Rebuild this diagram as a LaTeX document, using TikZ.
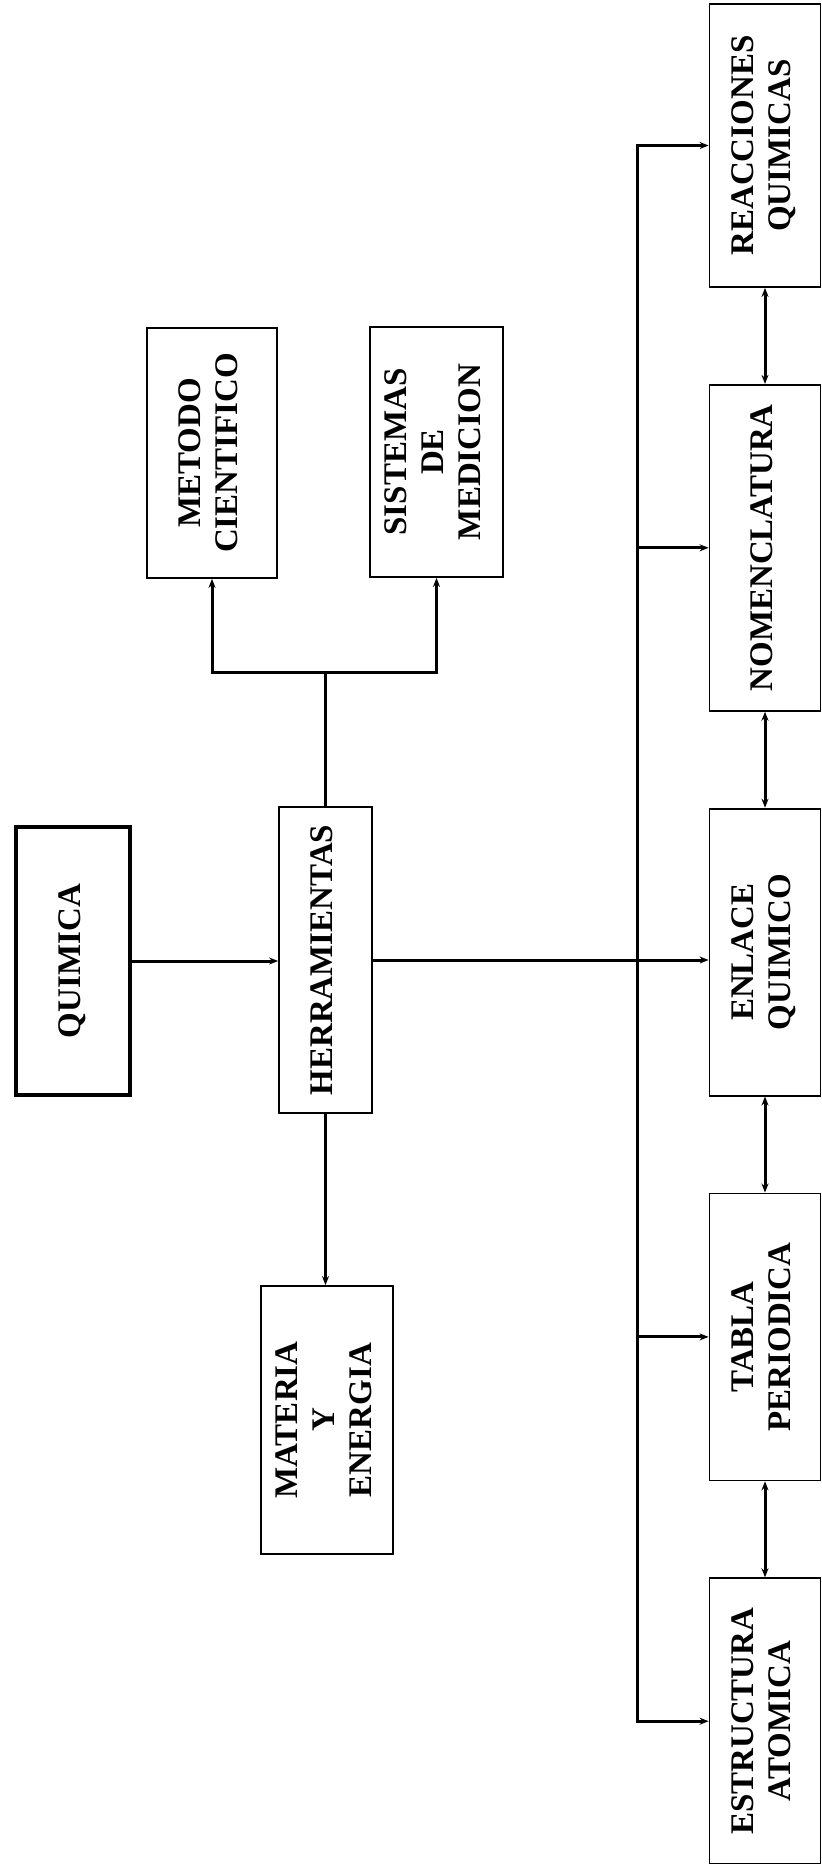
\documentclass[tikz,border=0pt]{standalone}
\usepackage{graphicx}
\usepackage{fontspec}
\setmainfont{Liberation Serif}
\usetikzlibrary{positioning,arrows.meta}

\newcommand{\vtext}[1]{\rotatebox{90}{\begin{tabular}{@{}c@{}}#1\end{tabular}}}

\begin{document}
\begin{tikzpicture}[x=1pt, y=1pt, >={Stealth[length=9pt,width=7pt]}, line width=3pt, node distance=96pt,
  box/.style={draw, line width=1.8pt, inner sep=0pt, fill=white,
    font=\bfseries\fontsize{33}{37}\selectfont},
  mainbox/.style={box, line width=3.6pt}]
  \useasboundingbox (0,0) rectangle (822,-1864);

  \node[mainbox, minimum width=114pt, minimum height=268pt] (QUIM) at (73,-961) {\vtext{QUIMICA}};
  \node[box, minimum width=93pt, minimum height=306pt] (HERR) at (325.5,-960) {\vtext{HERRAMIENTAS}};
  \node[box, minimum width=130pt, minimum height=250pt] (MET) at (212,-453) {\vtext{METODO\\CIENTIFICO}};
  \node[box, minimum width=133pt, minimum height=250pt] (SIS) at (436.5,-452) {\vtext{SISTEMAS\\DE\\MEDICION}};
  \node[box, minimum width=132pt, minimum height=268pt] (MAT) at (327,-1420) {\vtext{MATERIA\\Y\\ENERGIA}};

  % columna derecha
  \node[box, minimum width=111pt, minimum height=283pt] (REAC) at (765,-145.5) {\vtext{REACCIONES\\QUIMICAS}};
  \node[box, minimum width=111pt, minimum height=326pt, below=of REAC] (NOM) {\vtext{NOMENCLATURA}};
  \node[box, minimum width=111pt, minimum height=287pt, below=of NOM] (ENL) {\vtext{ENLACE\\QUIMICO}};
  \node[box, minimum width=111pt, minimum height=287pt, below=of ENL] (TAB) {\vtext{TABLA\\PERIODICA}};
  \node[box, minimum width=111pt, minimum height=286pt, below=of TAB] (EST) {\vtext{ESTRUCTURA\\ATOMICA}};

  \coordinate (bus) at (637,0);

  \draw[->] (QUIM.east) -- (QUIM.east -| HERR.west);
  \draw[->] (HERR.south) -- (HERR.south |- MAT.north);
  \draw (HERR.north) -- ++(0,134) coordinate (split);
  \draw[<->] (MET.south) |- (split) -| (SIS.south);

  \draw[->] (HERR.east) -- (HERR.east -| ENL.west);
  \draw[<->] (REAC.west) -| (EST.west -| bus) -- (EST.west);
  \foreach \n in {NOM,TAB}
    \draw[->] (\n.west -| bus) -- (\n.west);
  \foreach \a/\b in {REAC/NOM,NOM/ENL,ENL/TAB,TAB/EST}
    \draw[<->] (\a.south) -- (\b.north);
\end{tikzpicture}
\end{document}
